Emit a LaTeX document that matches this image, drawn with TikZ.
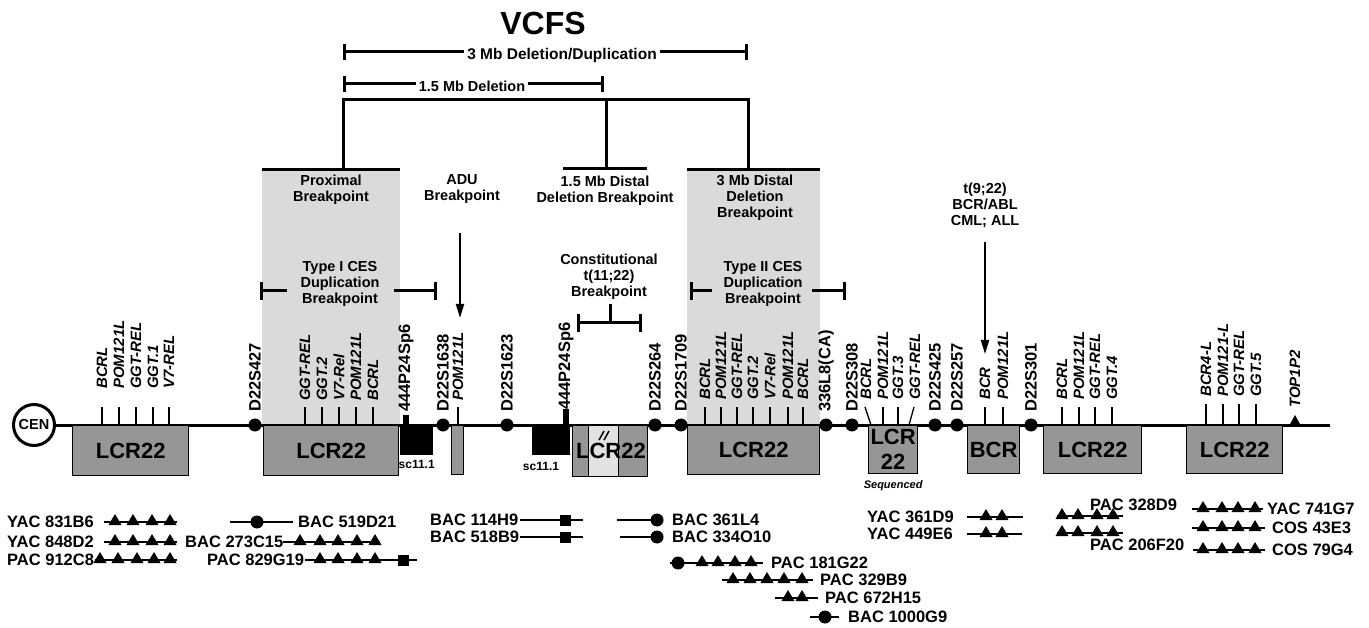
\documentclass[tikz,border=0pt]{standalone}
\usepackage{fontspec}
\setmainfont{Liberation Sans}
\usepackage{xcolor}
\definecolor{lcrgray}{RGB}{150,150,150}
\definecolor{bpgray}{RGB}{218,218,218}
\definecolor{palegray}{RGB}{226,226,226}
\usepackage{tikz}
\usetikzlibrary{arrows.meta,positioning}

\begin{document}
\begin{tikzpicture}[
  x=1pt, y=-1pt,
  chrline/.style={line width=3pt},
  barline/.style={line width=3pt},
  tickline/.style={line width=1.3pt},
  cloneline/.style={line width=2.2pt},
  lcr/.style={draw,line width=1.3pt,fill=lcrgray,anchor=north west,inner sep=0pt,
              font=\fontsize{22}{25}\selectfont\bfseries,align=center},
  blk/.style={fill=black,anchor=north west,inner sep=0pt},
  bpzone/.style={fill=bpgray},
  gene/.style={rotate=90,anchor=west,inner sep=0pt,
               font=\fontsize{15}{15}\selectfont\bfseries\itshape},
  stsl/.style={rotate=90,anchor=west,inner sep=0pt,
               font=\fontsize{16.5}{16.5}\selectfont\bfseries},
  note/.style={align=center,inner sep=0pt,font=\fontsize{14.5}{16}\selectfont\bfseries},
  barlbl/.style={fill=white,inner ysep=1pt,inner xsep=3pt,font=\fontsize{15.5}{15.5}\selectfont\bfseries},
  clonelbl/.style={anchor=west,inner sep=0pt,font=\fontsize{16.5}{16.5}\selectfont\bfseries},
  small/.style={inner sep=0pt,font=\fontsize{12}{12}\selectfont\bfseries},
  ptr/.style={line width=2pt,-{Triangle[length=14pt,width=8pt]}},
  clonetri/.pic={\fill (-6.5,3) -- (6.5,3) -- (0,-8) -- cycle;},
  clonedot/.pic={\fill (0,0) circle (6.5pt);},
  clonesq/.pic={\fill (-5.5,-5.5) rectangle (5.5,5.5);},
]
  \useasboundingbox (0,0) rectangle (1369,628);

  % breakpoint zones
  \fill[bpzone] (262,170) rectangle (400,425);
  \fill[bpzone] (687,170) rectangle (820,425);
  \draw[barline] (262,170) -- (400,170);
  \draw[barline] (687,170) -- (820,170);

  % title and deletion sizes
  \node[inner sep=0pt,font=\fontsize{32}{32}\selectfont\bfseries] (title) at (543,23) {VCFS};
  \coordinate (d3a) at (343,52);
  \coordinate (d3b) at (748,52);
  \draw[barline,{Bar[width=16pt]}-{Bar[width=16pt]}] (d3a) -- (d3b);
  \node[barlbl] (d3lbl) at (562,55) {3 Mb Deletion/Duplication};
  \coordinate (d15a) at (343,84);
  \coordinate (d15b) at (604,84);
  \draw[barline,{Bar[width=16pt]}-{Bar[width=16pt]}] (d15a) -- (d15b);
  \node[barlbl,font=\fontsize{14.5}{14.5}\selectfont\bfseries] (d15lbl) at (472,86) {1.5 Mb Deletion};

  % bracket to the breakpoints
  \draw[barline] (343,171) -- (343,100) -- (748,100) -- (748,171);
  \draw[barline] (606,100) -- (606,169);
  \draw[barline] (563,169) -- (647,169);

  \node[note] (prox) at (331,190) {Proximal\\Breakpoint};
  \node[note] (adu) at (462,189) {ADU\\Breakpoint};
  \node[note] (dist15) at (605,191) {1.5 Mb Distal\\Deletion Breakpoint};
  \node[note] (dist3) at (755,198) {3 Mb Distal\\Deletion\\Breakpoint};
  \node[note] (ces1) at (340,284) {Type I CES\\Duplication\\Breakpoint};
  \node[note] (ces2) at (763,284) {Type II CES\\Duplication\\Breakpoint};
  \node[note] (trans11) at (609,277) {Constitutional\\t(11;22)\\Breakpoint};
  \node[note] (trans9) at (985,205) {t(9;22)\\BCR/ABL\\CML; ALL};

  \draw[barline,{Bar[width=18pt]}-] (260,291) -- (287,291);
  \draw[barline,-{Bar[width=18pt]}] (394,291) -- (437,291);
  \draw[barline,{Bar[width=18pt]}-] (690,291) -- (712,291);
  \draw[barline,-{Bar[width=18pt]}] (812,291) -- (846,291);
  \draw[barline,{Bar[width=18pt]}-{Bar[width=18pt]}] (577,323) -- (642,323);
  \draw[barline] (610,323) -- (610,304);

  \coordinate (adutop) at (460,233);
  \coordinate (aduhit) at (460,318);
  \draw[ptr] (adutop) -- (aduhit);
  \coordinate (bcrtop) at (985,242);
  \coordinate (bcrhit) at (985,354);
  \draw[ptr] (bcrtop) -- (bcrhit);

  % chromosome 22
  \node[circle,draw,fill=white,line width=3pt,minimum size=41pt,inner sep=0pt,
        font=\fontsize{14.5}{14.5}\selectfont\bfseries] (cen) at (34,425) {CEN};
  \coordinate (qter) at (1330,425);
  \draw[chrline] (cen) -- (qter);

  \node[lcr,minimum width=116pt,minimum height=50pt] (lcr1) at (72,425) {LCR22};
  \node[lcr,minimum width=135pt,minimum height=50pt] (lcr2) at (263,425) {LCR22};
  \node[lcr,minimum width=12pt,minimum height=49pt] (pomb) at (451,425) {};
  \node[lcr,minimum width=16pt,minimum height=51pt] (lcrm1) at (572,425) {};
  \node[lcr,fill=palegray,minimum width=30pt,minimum height=51pt] (lcrm2) at (588,425) {};
  \node[lcr,minimum width=29pt,minimum height=51pt] (lcrm3) at (618,425) {};
  \node[inner sep=0pt,font=\fontsize{22}{22}\selectfont\bfseries] (lcrmlbl) at (611,451) {LCR22};
  \node[lcr,minimum width=132pt,minimum height=49pt] (lcr3) at (687,425) {LCR22};
  \node[lcr,minimum width=49pt,minimum height=48pt] (lcrs) at (868,425) {LCR\\22};
  \node[lcr,minimum width=52pt,minimum height=48pt] (bcrb) at (967,425) {BCR};
  \node[lcr,minimum width=98pt,minimum height=48pt] (lcr4) at (1043,425) {LCR22};
  \node[lcr,minimum width=96pt,minimum height=48pt] (lcr5) at (1186,425) {LCR22};
  \node[inner sep=0pt,font=\fontsize{11}{11}\selectfont\bfseries\itshape,below=6pt of lcrs] (seq) {Sequenced};

  \draw[line width=1.5pt] (599,440) -- (604,431) (604,440) -- (609,431);

  \node[blk,minimum width=33pt,minimum height=30pt] (sc1) at (400,425) {};
  \node[blk,minimum width=38pt,minimum height=30pt] (sc2) at (532,425) {};
  \node[small,below=5pt of sc1] (sc1lbl) {sc11.1};
  \node[small] (sc2lbl) at (541,466) {sc11.1};
  \fill (403,415) rectangle (409,425);
  \fill (563,409) rectangle (569,425);
  \node[stsl] (p444a) at (406,412) {444P24Sp6};
  \node[stsl] (p444b) at (566,410) {444P24Sp6};

  % STS markers
  \foreach \sx/\sname [count=\k] in {255/D22S427,443/D22S1638,507/D22S1623,655/D22S264,
      681/D22S1709,826/336L8(CA),852/D22S308,935/D22S425,957/D22S257,1031/D22S301} {
    \fill (\sx,425) circle (6.5pt);
    \node[stsl] (sts\k) at (\sx,412) {\sname};
  }

  % genes
  \foreach \gx/\gname [count=\k] in {102/BCRL,119/POM121L,136/GGT-REL,153/GGT.1,169/V7-REL} {
    \draw[tickline] (\gx,407) -- (\gx,425);
    \node[gene] (ga\k) at (\gx,389) {\gname};
  }
  \foreach \gx/\gname [count=\k] in {305/GGT-REL,322/GGT.2,339/V7-Rel,356/POM121L,373/BCRL,458/POM121L} {
    \draw[tickline] (\gx,407) -- (\gx,425);
    \node[gene] (gb\k) at (\gx,401) {\gname};
  }
  \foreach \gx/\gname [count=\k] in {705/BCRL,721/POM121L,737/GGT-REL,753/GGT.2,770/V7-Rel,788/POM121L,803/BCRL} {
    \draw[tickline] (\gx,407) -- (\gx,425);
    \node[gene] (gc\k) at (\gx,400) {\gname};
  }
  \draw[tickline] (865,407) -- (871,425);
  \draw[tickline] (914,407) -- (909,425);
  \foreach \gx/\gname [count=\k] in {866/BCRL,883/POM121L,898/GGT.3,915/GGT-REL} {
    \node[gene] (gd\k) at (\gx,400) {\gname};
  }
  \draw[tickline] (883,407) -- (883,425);
  \draw[tickline] (898,407) -- (898,425);
  \foreach \gx/\gname [count=\k] in {985/BCR,1003/POM121L,1062/BCRL,1079/POM121L,1095/GGT-REL,1112/GGT.4} {
    \draw[tickline] (\gx,407) -- (\gx,425);
    \node[gene] (ge\k) at (\gx,400) {\gname};
  }
  \foreach \gx/\gname [count=\k] in {1206/BCR4-L,1223/POM121-L,1239/GGT-REL,1256/GGT.5} {
    \draw[tickline] (\gx,404) -- (\gx,425);
    \node[gene] (gf\k) at (\gx,397) {\gname};
  }
  \fill (1289,426) -- (1301,426) -- (1295,415) -- cycle;
  \node[gene] (top1) at (1295,408) {TOP1P2};

  % clones
  \node[clonelbl] (yac831) at (7,522) {YAC 831B6};
  \draw[cloneline] (104,522) -- (177,522);
  \foreach \cx in {115,133,152,170} \pic at (\cx,522) {clonetri};
  \node[clonelbl] (yac848) at (7,542) {YAC 848D2};
  \draw[cloneline] (104,542) -- (177,542);
  \foreach \cx in {115,133,152,170} \pic at (\cx,542) {clonetri};
  \node[clonelbl] (pac912) at (7,560) {PAC 912C8};
  \draw[cloneline] (95,560) -- (177,560);
  \foreach \cx in {100,118,137,154,170} \pic at (\cx,560) {clonetri};

  \draw[cloneline] (230,522) -- (293,522);
  \pic at (257,522) {clonedot};
  \node[clonelbl] (bac519) at (298,522) {BAC 519D21};
  \node[clonelbl] (bac273) at (185,542) {BAC 273C15};
  \draw[cloneline] (283,542) -- (380,542);
  \foreach \cx in {300,320,338,357,375} \pic at (\cx,542) {clonetri};
  \node[clonelbl] (pac829) at (207,560) {PAC 829G19};
  \draw[cloneline] (305,560) -- (417,560);
  \foreach \cx in {320,338,357,375} \pic at (\cx,560) {clonetri};
  \pic at (403,560) {clonesq};

  \node[clonelbl] (bac114) at (430,520) {BAC 114H9};
  \draw[cloneline] (520,520) -- (583,520);
  \pic at (565,520) {clonesq};
  \node[clonelbl] (bac518) at (430,537) {BAC 518B9};
  \draw[cloneline] (520,537) -- (583,537);
  \pic at (565,537) {clonesq};
  \draw[cloneline] (617,520) -- (657,520);
  \pic at (657,520) {clonedot};
  \node[clonelbl] (bac361) at (672,520) {BAC 361L4};
  \draw[cloneline] (620,537) -- (657,537);
  \pic at (657,537) {clonedot};
  \node[clonelbl] (bac334) at (672,537) {BAC 334O10};

  \draw[cloneline] (670,563) -- (763,563);
  \pic at (678,563) {clonedot};
  \foreach \cx in {702,718,735,751} \pic at (\cx,563) {clonetri};
  \node[clonelbl] (pac181) at (771,563) {PAC 181G22};
  \draw[cloneline] (722,580) -- (813,580);
  \foreach \cx in {733,750,767,784,802} \pic at (\cx,580) {clonetri};
  \node[clonelbl] (pac329) at (820,580) {PAC 329B9};
  \draw[cloneline] (775,598) -- (818,598);
  \foreach \cx in {788,802} \pic at (\cx,598) {clonetri};
  \node[clonelbl] (pac672) at (825,598) {PAC 672H15};
  \draw[cloneline] (810,617) -- (839,617);
  \pic at (825,617) {clonedot};
  \node[clonelbl] (bac1000) at (848,617) {BAC 1000G9};

  \node[clonelbl] (yac361) at (867,517) {YAC 361D9};
  \draw[cloneline] (967,517) -- (1023,517);
  \foreach \cx in {986,1002} \pic at (\cx,517) {clonetri};
  \node[clonelbl] (yac449) at (867,534) {YAC 449E6};
  \draw[cloneline] (967,534) -- (1022,534);
  \foreach \cx in {986,1002} \pic at (\cx,534) {clonetri};

  \node[clonelbl] (pac328) at (1090,505) {PAC 328D9};
  \draw[cloneline] (1057,516) -- (1123,516);
  \foreach \cx in {1062,1078,1097,1113} \pic at (\cx,516) {clonetri};
  \draw[cloneline] (1057,533) -- (1123,533);
  \foreach \cx in {1062,1078,1097,1113} \pic at (\cx,533) {clonetri};
  \node[clonelbl] (pac206) at (1090,545) {PAC 206F20};

  \draw[cloneline] (1192,509) -- (1263,509);
  \foreach \cx in {1203,1222,1238,1255} \pic at (\cx,509) {clonetri};
  \node[clonelbl] (yac741) at (1267,509) {YAC 741G7};
  \draw[cloneline] (1192,528) -- (1265,528);
  \foreach \cx in {1203,1222,1238,1255} \pic at (\cx,528) {clonetri};
  \node[clonelbl] (cos43) at (1272,528) {COS 43E3};
  \draw[cloneline] (1193,550) -- (1265,550);
  \foreach \cx in {1203,1222,1238,1255} \pic at (\cx,550) {clonetri};
  \node[clonelbl] (cos79) at (1272,550) {COS 79G4};
\end{tikzpicture}
\end{document}
